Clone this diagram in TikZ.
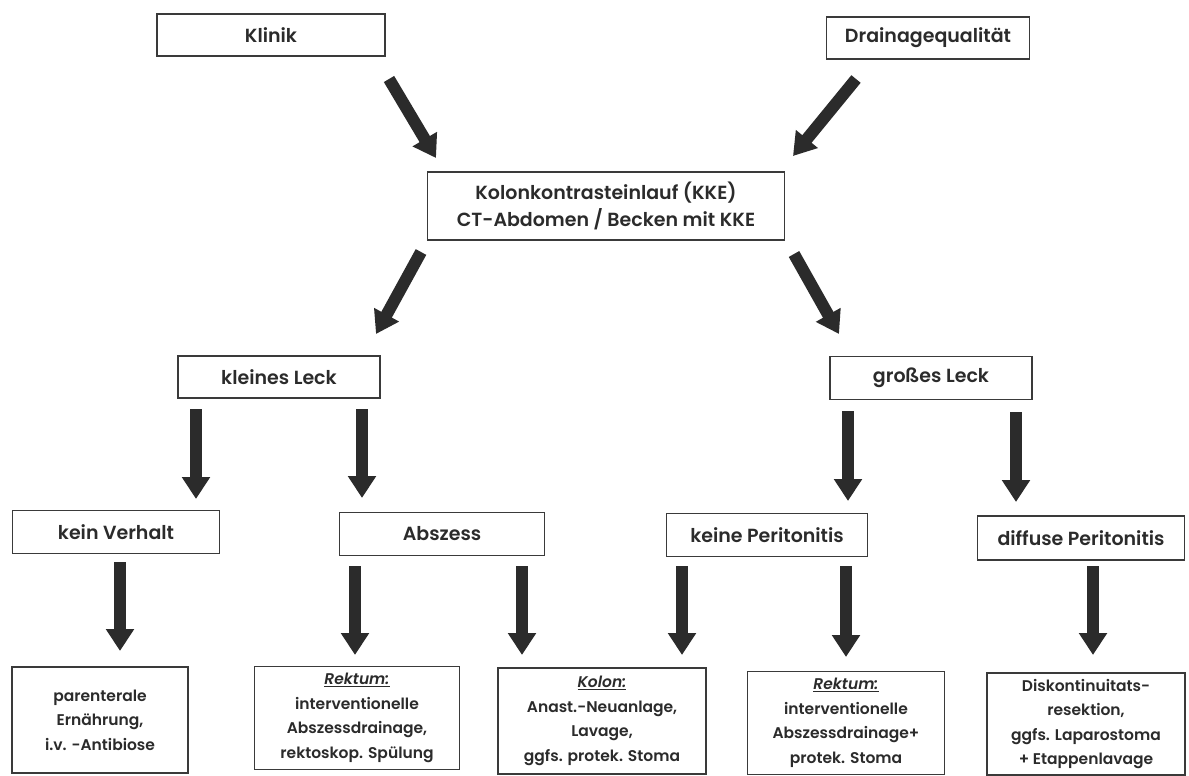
\documentclass[tikz,border=0pt]{standalone}
\usepackage{fontspec}
\setmainfont{Poppins}[UprightFont={* SemiBold},ItalicFont={* SemiBold Italic}]
\usetikzlibrary{arrows.meta}
\definecolor{inkgray}{HTML}{2B2B2B}
\definecolor{boxgray}{HTML}{3A3A3A}
\begin{document}
\begin{tikzpicture}[x=1pt,y=-1pt]
        \tikzset{box/.style = {shape=rectangle,draw=boxgray,line width=1.6pt,inner sep=0pt,align=center,text=inkgray,font=\fontsize{19}{27}\selectfont}}
        \tikzset{smallbox/.style = {box,font=\fontsize{15.5}{24.5}\selectfont}}
        \tikzset{bigarrow/.style = {draw=inkgray,line width=12pt,-{Triangle[length=22pt,width=27pt]}}}
        \useasboundingbox[fill=white] (0,0) rectangle (1189,776);
        % boxes on top
        \node[box,minimum width=228pt,minimum height=42pt] (klinik) at (271,35) {Klinik};
        \node[box,minimum width=203pt,minimum height=42pt] (drain) at (928,38) {Drainagequalität};
        \node[box,minimum width=357pt,minimum height=68pt] (kke) at (606,206) {Kolonkontrasteinlauf (KKE)\\CT-Abdomen / Becken mit KKE};
        % leaks
        \node[box,minimum width=202pt,minimum height=42pt] (klein) at (279,377) {kleines Leck};
        \node[box,minimum width=202pt,minimum height=43pt] (gross) at (931,378) {großes Leck};
        % findings
        \node[box,minimum width=207pt,minimum height=43pt] (verhalt) at (116,532) {kein Verhalt};
        \node[box,minimum width=205pt,minimum height=43pt] (abszess) at (442,534) {Abszess};
        \node[box,minimum width=201pt,minimum height=43pt] (keineperi) at (767,535) {keine Peritonitis};
        \node[box,minimum width=207pt,minimum height=44pt] (diffperi) at (1081,538) {diffuse Peritonitis};
        % therapy
        \node[smallbox,minimum width=176pt,minimum height=106pt] (ther1) at (100,720) {parenterale\\Ernährung,\\i.v. -Antibiose};
        \node[smallbox,minimum width=205pt,minimum height=103pt] (ther2) at (357,718) {\underline{\itshape Rektum:}\\interventionelle\\Abszessdrainage,\\rektoskop. Spülung};
        \node[smallbox,minimum width=208pt,minimum height=106pt] (ther3) at (602,721) {\underline{\itshape Kolon:}\\Anast.-Neuanlage,\\Lavage,\\ggfs. protek. Stoma};
        \node[smallbox,minimum width=197pt,minimum height=103pt] (ther4) at (846,723) {\underline{\itshape Rektum:}\\interventionelle\\Abszessdrainage+\\protek. Stoma};
        \node[smallbox,minimum width=198pt,minimum height=102pt] (ther5) at (1086,724) {Diskontinuitats-\\resektion,\\ggfs. Laparostoma\\+ Etappenlavage};
        % arrow ends
        \coordinate (a1s) at (389,79);   \coordinate (a1e) at (436,158);
        \coordinate (a2s) at (856,79);   \coordinate (a2e) at (793,156);
        \coordinate (a3s) at (421,252);  \coordinate (a3e) at (376,334);
        \coordinate (a4s) at (794,254);  \coordinate (a4e) at (839,334);
        \coordinate (b1s) at (196,409);  \coordinate (b1e) at (196,499);
        \coordinate (b2s) at (362,409);  \coordinate (b2e) at (362,498);
        \coordinate (b3s) at (848,411);  \coordinate (b3e) at (848,501);
        \coordinate (b4s) at (1016,412); \coordinate (b4e) at (1016,502);
        \coordinate (c1s) at (120,562);  \coordinate (c1e) at (120,651);
        \coordinate (c2s) at (355,566);  \coordinate (c2e) at (355,655);
        \coordinate (c3s) at (522,566);  \coordinate (c3e) at (522,655);
        \coordinate (c4s) at (682,566);  \coordinate (c4e) at (682,655);
        \coordinate (c5s) at (846,566);  \coordinate (c5e) at (846,657);
        \coordinate (c6s) at (1093,566); \coordinate (c6e) at (1093,655);
        % arrows
        \foreach \s/\e in {a1s/a1e,a2s/a2e,a3s/a3e,a4s/a4e,b1s/b1e,b2s/b2e,b3s/b3e,b4s/b4e,c1s/c1e,c2s/c2e,c3s/c3e,c4s/c4e,c5s/c5e,c6s/c6e}
          \draw[bigarrow] (\s) -- (\e);
        \end{tikzpicture}
\end{document}
